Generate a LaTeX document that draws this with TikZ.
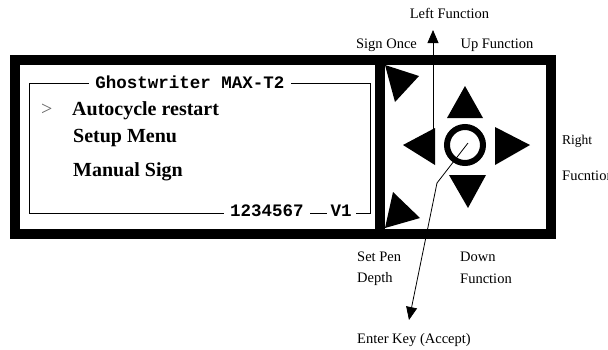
\documentclass[tikz,border=0pt]{standalone}
\usepackage{fontspec}
\setmainfont{Liberation Serif}
\newfontfamily\monofont{Liberation Mono}
\usetikzlibrary{arrows.meta}
\begin{document}
\begin{tikzpicture}[x=1pt,y=-1pt,
  frame/.style={line width=10pt},
  thinbox/.style={line width=0.8pt},
  keytri/.style={fill=black},
  lbl/.style={font=\fontsize{14.5}{16}\selectfont, inner sep=0pt},
  menu/.style={font=\fontsize{20}{24}\selectfont\bfseries, inner sep=0pt, anchor=base west},
  mono/.style={font=\fontsize{17.5}{20}\selectfont\monofont\bfseries, inner ysep=1pt, fill=white, anchor=base},
  arr/.style={line width=0.8pt, -{Triangle[length=13pt,width=11pt]}}]
\useasboundingbox (0,0) rectangle (608,349);
\clip (0,0) rectangle (608,349);
% outer frame
\draw[frame] (15,60) rectangle (551,234);
\draw[frame] (380,60) -- (380,234);
% inner display box
\draw[thinbox] (29,83) rectangle (370,213);
\node[mono, inner xsep=6pt] (title) at (190,88) {Ghostwriter MAX-T2};
\node[mono, inner xsep=6pt] (serial) at (267,216) {1234567};
\node[mono, inner xsep=4pt] (ver) at (341,216) {V1};
% menu
\node[menu, font=\fontsize{20}{24}\selectfont, text=black!60] (cursor) at (41,115) {>};
\node[menu] (m1) at (72,115) {Autocycle restart};
\node[menu] (m2) at (73,142) {Setup Menu};
\node[menu] (m3) at (73,176) {Manual Sign};
% keys
\fill[keytri] (385,65) -- (419,76) -- (395,102) -- cycle;
\fill[keytri] (393,192) -- (420,218) -- (385,228) -- cycle;
\fill[keytri] (465,86) -- (447,118) -- (483,118) -- cycle;
\fill[keytri] (403,145) -- (435,128) -- (435,165) -- cycle;
\fill[keytri] (530,145) -- (495,127) -- (495,165) -- cycle;
\fill[keytri] (449,175) -- (486,175) -- (468,208) -- cycle;
\draw[line width=6pt] (465,145) circle[radius=18];
% connectors
\coordinate (lfstart) at (433,140);
\coordinate (lftip) at (433,30);
\coordinate (entstart) at (468,143);
\coordinate (entbend) at (437,183);
\coordinate (enttip) at (409,320);
\draw[arr] (lfstart) -- (lftip);
\draw[arr] (entstart) -- (entbend) -- (enttip);
% labels
\node[lbl] (lf) at (449.5,13) {Left Function};
\node[lbl] (so) at (386.5,45) {Sign Once};
\node[lbl] (uf) at (497,45) {Up Function};
\node[lbl, anchor=west, font=\fontsize{13.5}{15}\selectfont] (rf1) at (562,141) {Right};
\node[lbl, anchor=west] (rf2) at (562,176) {Fucntion};
\node[lbl, anchor=west] (sp1) at (357,257) {Set Pen};
\node[lbl, anchor=west] (sp2) at (357,279) {Depth};
\node[lbl, anchor=west] (df1) at (460,257) {Down};
\node[lbl, anchor=west] (df2) at (460,279) {Function};
\node[lbl, anchor=west] (ek) at (357,340) {Enter Key (Accept)};
\end{tikzpicture}
\end{document}
